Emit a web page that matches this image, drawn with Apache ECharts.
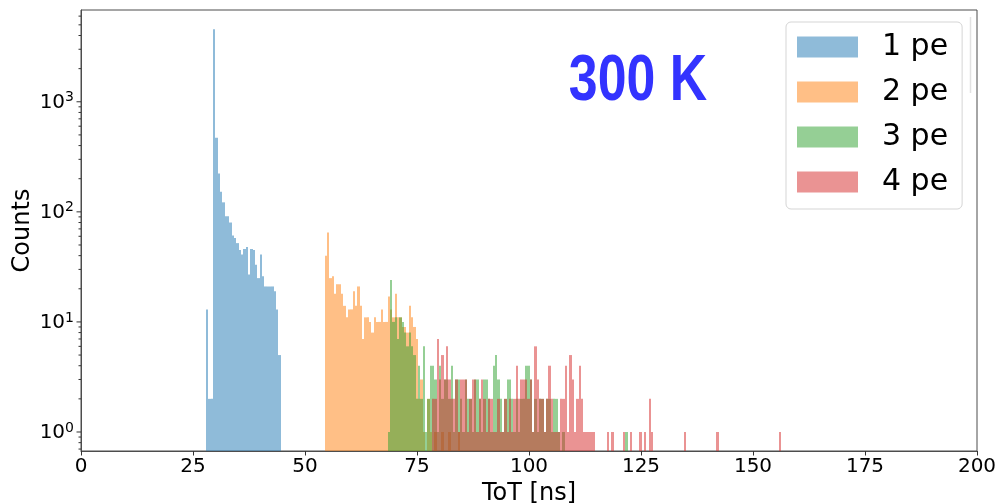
<!DOCTYPE html>
<html>
<head>
<meta charset="utf-8">
<script src="https://cdn.jsdelivr.net/npm/echarts@6/dist/echarts.min.js"></script>
<style>
  html, body { margin: 0; padding: 0; background: #fff; }
  #chart { width: 998px; height: 503px; }
</style>
</head>
<body>
<div id="chart"></div>
<script>
// ToT histograms (counts per bin) for 1–4 photo-electron events at 300 K
const seriesNames = ['1 pe', '2 pe', '3 pe', '4 pe'];
const binWidth = 0.52;   // ns
const binOrigin = 27.9;  // ns, left edge of bin 0
const firstBin = [0, 51, 78, 97];

const counts1pe = [13, 2, 2, 4550, 471, 223, 152, 122, 91, 91, 80, 61, 58, 52, 45, 41,
  46, 48, 27, 46, 45, 33, 25, 41, 26, 21, 21, 21, 21, 19, 13, 5];

const counts2pe = [40, 65, 25, 26, 18, 22, 22, 18, 14, 11, 13, 13, 19, 14, 21, 14,
  7, 11, 11, 10, 8, 11, 10, 10, 13, 10, 10, 17, 13, 11, 18, 11, 11, 9, 9, 8,
  14, 11, 9, 7, 2, 3, 1, 0, 2, 1, 0, 1, 0, 0, 1, 0, 0, 1, 0, 0, 0, 1];

const counts3pe = [1, 24, 10, 11, 7, 11, 10, 8, 6, 8, 6, 5, 2, 4, 2, 6,
  1, 2, 4, 4, 3, 1, 4, 2, 3, 3, 2, 4, 1, 3, 3, 2, 1, 3, 2, 2,
  1, 3, 3, 2, 1, 3, 3, 2, 1, 4, 5, 3, 2, 1, 2, 3, 3, 2, 1, 2,
  1, 2, 2, 4, 4, 3, 1, 2, 1, 2, 2, 1, 2, 2, 1, 2, 2, 1, 0, 1,
  0, 0, 0, 0, 0, 0, 0, 0, 0, 0, 0, 0, 0, 0, 0, 0, 0, 0, 0, 0,
  0, 0, 0, 0, 0, 0, 1];

// 16 bins per row
const counts4pe = [
  2, 2, 7, 3, 5, 3, 6, 3, 2, 2, 3, 1, 3, 3, 3, 1,
  2, 3, 3, 1, 2, 3, 2, 1, 2, 2, 1, 1, 2, 1, 1, 2,
  1, 2, 1, 2, 4, 2, 3, 3, 3, 2, 3, 1, 6, 3, 2, 2,
  1, 2, 4, 2, 1, 1, 1, 2, 2, 4, 1, 5, 3, 1, 2, 4,
  2, 1, 1, 1, 1, 1, 0, 0, 0, 0, 0, 1, 0, 1, 0, 0,
  0, 0, 1, 0, 0, 1, 0, 0, 0, 1, 0, 1, 0, 2, 1, 0,
  0, 0, 0, 0, 0, 0, 0, 0, 0, 0, 0, 0, 1, 0, 0, 0,
  0, 0, 0, 0, 0, 0, 0, 0, 0, 0, 1, 0, 0, 0, 0, 0,
  0, 0, 0, 0, 0, 0, 0, 0, 0, 0, 0, 0, 0, 0, 0, 0,
  0, 0, 0, 0, 0, 1];

const allCounts = [counts1pe, counts2pe, counts3pe, counts4pe];
const seriesColors = ['rgba(31,119,180,0.5)', 'rgba(255,127,14,0.5)',
  'rgba(44,160,44,0.5)', 'rgba(214,39,40,0.5)'];

const xMin = 0, xMax = 200, xInterval = 25;
const yMin = 0.672, yMax = 6820;

// [left edge, right edge, count] for every non-empty bin
function binsFor(start, counts) {
  const out = [];
  counts.forEach((c, i) => {
    if (c > 0) {
      const k = start + i;
      out.push([binOrigin + k * binWidth, binOrigin + (k + 1) * binWidth, c]);
    }
  });
  return out;
}

function histRenderer(color) {
  return function (params, api) {
    const top = api.coord([api.value(0), api.value(2)]);
    const bottom = api.coord([api.value(1), yMin]);
    const x0 = Math.round(top[0]);
    const x1 = Math.round(bottom[0]);
    return {
      type: 'rect',
      shape: { x: x0, y: top[1], width: x1 - x0, height: bottom[1] - top[1] },
      style: { fill: color }
    };
  };
}

// log-axis ticks: decades (long) and 2..9 sub-decades (short)
const yTickData = [];
for (let e = -1; e <= 3; e++) {
  for (let m = 1; m <= 9; m++) {
    const v = m * Math.pow(10, e);
    if (v >= yMin && v <= yMax) yTickData.push([v, m === 1 ? 4.5 : 2.5]);
  }
}

const series = seriesNames.map((name, s) => ({
  name: name,
  type: 'custom',
  clip: true,
  itemStyle: { color: seriesColors[s] },
  encode: { x: [0, 1], y: 2 },
  data: binsFor(firstBin[s], allCounts[s]),
  renderItem: histRenderer(seriesColors[s]),
  silent: true
}));

series.push({
  name: 'yTicks',
  type: 'custom',
  clip: false,
  silent: true,
  encode: { y: 0 },
  data: yTickData,
  renderItem: function (params, api) {
    const p = api.coord([xMin, api.value(0)]);
    const len = api.value(1);
    return {
      type: 'line',
      shape: { x1: p[0] - len, y1: p[1], x2: p[0], y2: p[1] },
      style: { stroke: '#333', lineWidth: 1 }
    };
  }
});

const chart = echarts.init(document.getElementById('chart'), null, { renderer: 'canvas' });

chart.setOption({
  animation: false,
  backgroundColor: '#fff',
  grid: {
    left: 81, right: 21, top: 10, bottom: 52,
    containLabel: false, outerBoundsMode: 'none',
    show: true, borderColor: '#4d4d4d', borderWidth: 1, backgroundColor: 'transparent'
  },
  xAxis: {
    type: 'value', min: xMin, max: xMax, interval: xInterval,
    name: 'ToT [ns]', nameLocation: 'middle', nameGap: 24,
    nameTextStyle: { fontFamily: 'DejaVu Sans', fontSize: 24, color: '#000' },
    axisLine: { show: true, lineStyle: { color: '#4d4d4d', width: 1 } },
    axisTick: { show: true, length: 4.5, lineStyle: { color: '#333' } },
    axisLabel: { margin: 6, fontFamily: 'DejaVu Sans', fontSize: 20, color: '#000' },
    splitLine: { show: false }
  },
  yAxis: {
    type: 'log', logBase: 10, min: yMin, max: yMax,
    name: 'Counts', nameLocation: 'middle', nameGap: 46, nameMoveOverlap: false,
    nameTextStyle: { fontFamily: 'DejaVu Sans', fontSize: 24, color: '#000' },
    axisLine: { show: true, lineStyle: { color: '#4d4d4d', width: 1 } },
    axisTick: { show: false },
    splitLine: { show: false },
    axisLabel: {
      margin: 7,
      formatter: function (value) {
        const e = Math.round(Math.log10(value));
        if (Math.abs(value - Math.pow(10, e)) > 1e-6 * value) return '';
        return '{b|10}{s|' + e + '}';
      },
      rich: {
        b: { fontFamily: 'DejaVu Sans', fontSize: 20, lineHeight: 22, verticalAlign: 'bottom', color: '#000' },
        s: { fontFamily: 'DejaVu Sans', fontSize: 14, lineHeight: 14, verticalAlign: 'top', color: '#000' }
      }
    }
  },
  legend: {
    data: seriesNames,
    orient: 'vertical',
    left: 786, top: 22,
    icon: 'rect',
    itemWidth: 61, itemHeight: 21, itemGap: 15,
    padding: [10, 14, 12, 11],
    backgroundColor: '#fff',
    borderColor: '#d5d5d5', borderWidth: 1, borderRadius: 5,
    selectedMode: false,
    textStyle: { fontFamily: 'DejaVu Sans', fontSize: 30, color: '#000', padding: [0, 0, 0, 19] }
  },
  graphic: [
    {
      type: 'text', x: 638, y: 82, z: 10, scaleX: 0.81,
      style: {
        text: '300 K', fill: '#3333ff',
        font: 'bold 64px "Liberation Sans", Arial, sans-serif',
        align: 'center', verticalAlign: 'middle'
      }
    },
    {
      type: 'line', z: 10,
      shape: { x1: 970.5, y1: 17, x2: 970.5, y2: 93 },
      style: { stroke: '#e2e2e2', lineWidth: 1.5 }
    }
  ],
  series: series
});
</script>
</body>
</html>
